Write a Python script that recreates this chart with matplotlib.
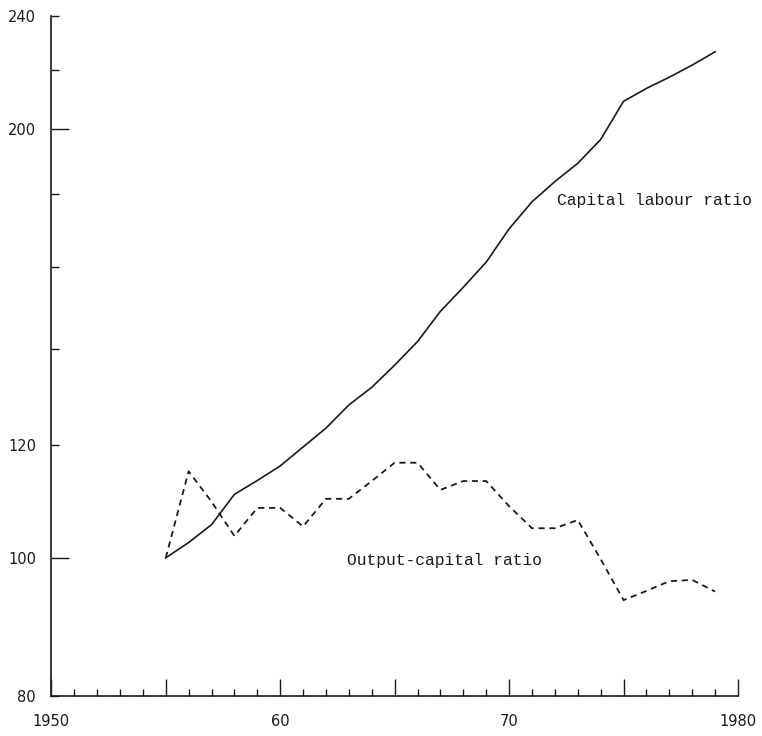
#!/usr/bin/env python3
"""Capital labour ratio and output-capital ratio, 1955-79 (1955 = 100)."""

import matplotlib
matplotlib.use('Agg')
from matplotlib import pyplot as plt
from matplotlib.ticker import FixedLocator, FixedFormatter, NullFormatter


YEARS = list(range(1955, 1980))
CAPITAL_LABOUR = [100.0, 102.5, 105.5, 110.8, 113.3, 116.0, 119.6, 123.3,
                  128.0, 131.7, 136.5, 141.8, 148.9, 154.8, 161.2, 170.1,
                  177.7, 183.6, 189.1, 196.5, 209.0, 213.4, 217.3, 221.6,
                  226.4]
OUTPUT_CAPITAL = [100.0, 115.0, 109.5, 103.6, 108.4, 108.4, 105.2, 110.0,
                  110.0, 113.2, 116.6, 116.6, 111.6, 113.2, 113.2, 108.7,
                  104.9, 104.9, 106.3, 99.8, 93.4, 94.8, 96.3, 96.5, 94.7]

Y_MAJOR = [100, 200]
Y_MINOR = [80, 120, 140, 160, 180, 220, 240]
Y_MINOR_LABELS = ['80', '120', '', '', '', '', '240']
X_MAJOR = [1950, 1955, 1960, 1965, 1970, 1975, 1980]
X_MAJOR_LABELS = ['1950', '', '60', '', '70', '', '1980']
X_MINOR = list(range(1951, 1980))


def main():
    """Draw both series on a ratio scale."""
    fig = plt.figure(figsize=(7.62, 7.36), dpi=100)
    ax = fig.add_axes([0.0673, 0.0543, 0.9012, 0.9244])

    ax.plot(YEARS, CAPITAL_LABOUR, color='#1a1a1a', lw=1.2)
    ax.plot(YEARS, OUTPUT_CAPITAL, color='#1a1a1a', lw=1.3,
            linestyle=(0, (3.4, 2.6)))

    ax.set_yscale('log')
    ax.set_ylim(80, 240)
    ax.set_xlim(1950, 1980)

    ax.yaxis.set_major_locator(FixedLocator(Y_MAJOR))
    ax.yaxis.set_major_formatter(FixedFormatter([str(v) for v in Y_MAJOR]))
    ax.yaxis.set_minor_locator(FixedLocator(Y_MINOR))
    ax.yaxis.set_minor_formatter(FixedFormatter(Y_MINOR_LABELS))

    ax.xaxis.set_major_locator(FixedLocator(X_MAJOR))
    ax.xaxis.set_major_formatter(FixedFormatter(X_MAJOR_LABELS))
    ax.xaxis.set_minor_locator(FixedLocator(X_MINOR))
    ax.xaxis.set_minor_formatter(NullFormatter())

    for side in ('top', 'right'):
        ax.spines[side].set_visible(False)
    for side in ('left', 'bottom'):
        ax.spines[side].set_linewidth(1.2)
        ax.spines[side].set_color('#1a1a1a')

    ax.tick_params(axis='y', which='major', direction='in', length=13,
                   width=1.0, pad=11, labelsize=10.5, colors='#1a1a1a')
    ax.tick_params(axis='y', which='minor', direction='in', length=5.8,
                   width=1.0, pad=11, labelsize=10.5, colors='#1a1a1a')
    ax.tick_params(axis='x', which='major', direction='in', length=12,
                   width=1.0, pad=13, labelsize=10.5, colors='#1a1a1a')
    ax.tick_params(axis='x', which='minor', direction='in', length=5,
                   width=1.0, colors='#1a1a1a')

    ax.text(1972.1, 178, 'Capital labour ratio', family='Liberation Mono',
            fontsize=11.7, va='center', ha='left', color='#1a1a1a')
    ax.text(1962.9, 99.6, 'Output-capital ratio', family='Liberation Mono',
            fontsize=11.7, va='center', ha='left', color='#1a1a1a')

    fig.savefig('out.png', dpi=100, facecolor='white')


if __name__ == '__main__':
    main()
